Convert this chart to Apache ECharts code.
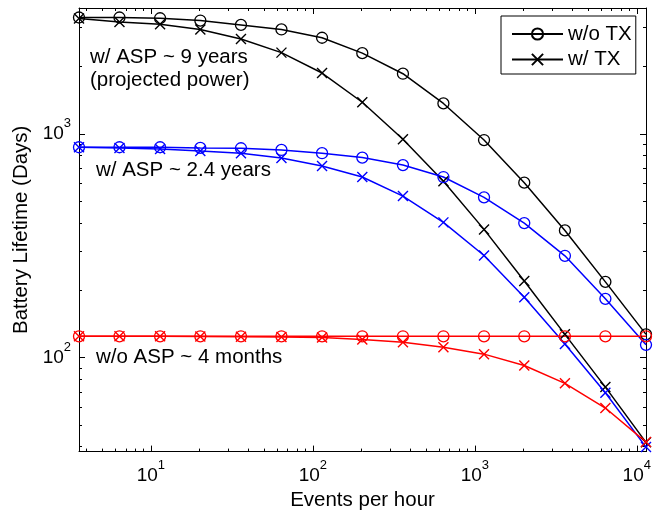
<!DOCTYPE html>
<html>
<head>
<meta charset="utf-8">
<title>Battery lifetime vs. event rate</title>
<script src="https://cdn.jsdelivr.net/npm/echarts@6/dist/echarts.min.js"></script>
<style>
  html, body { margin: 0; padding: 0; background: #fff; }
  #chart { width: 663px; height: 516px; }
</style>
</head>
<body>
<div id="chart"></div>
<script>
// Event rates (events per hour), quarter-decade steps
const eventsPerHour = [3.6, 6.4, 11.4, 20.2, 36, 64, 114, 202, 360, 640, 1140, 2020, 3600, 6400, 11400];

// Battery lifetime in days
const aspProjectedNoTx = [3310, 3310, 3285, 3208, 3067, 2927, 2687, 2294, 1856, 1367, 938, 605, 370, 218, 127];
const aspProjectedTx   = [3280, 3162, 3090, 2927, 2651, 2306, 1869, 1384, 946, 614, 374, 220, 127, 73.8, 41.8];
const aspNoTx          = [871, 871, 871, 865, 862, 847, 819, 783, 725, 641, 520, 399, 285, 183, 114];
const aspTx            = [871, 865, 855, 838, 819, 780, 718, 641, 527, 402, 286, 186, 115, 69.6, 39.8];
const noAspNoTx        = [124.5, 124.5, 124.5, 124.5, 124.5, 124.5, 124.5, 124.5, 124.5, 124.5, 124.5, 124.5, 124.5, 124.5, 124.5];
const noAspTx          = [124.5, 124.5, 124.5, 124.3, 124, 123.5, 122.8, 120.5, 117, 111.3, 103.6, 92.2, 76.7, 59.5, 41.9];

// Axis ticks
const xMajorTicks = [10, 100, 1000, 10000];
const xTickExponents = ['1', '2', '3', '4'];
const xMinorTicks = [4, 5, 6, 7, 8, 9, 20, 30, 40, 50, 60, 70, 80, 90,
  200, 300, 400, 500, 600, 700, 800, 900, 2000, 3000, 4000, 5000, 6000, 7000, 8000, 9000];
const yMajorTicks = [100, 1000];
const yTickExponents = ['2', '3'];
const yMinorTicks = [40, 50, 60, 70, 80, 90, 200, 300, 400, 500, 600, 700, 800, 900, 2000, 3000];

// Text drawn inside the plot
const notes = [
  { text: 'w/ ASP ~ 9 years', x: 90, y: 57 },
  { text: '(projected power)', x: 90, y: 80 },
  { text: 'w/ ASP ~ 2.4 years', x: 96, y: 170 },
  { text: 'w/o ASP ~ 4 months', x: 96, y: 357 }
];

const FONT = '"Liberation Sans", Arial, Helvetica, sans-serif';
const BLACK = '#000000', BLUE = '#0000ff', RED = '#ff0000';
const X_MARK = 'path://M0,0L10,10M10,0L0,10';

const powerLabel = (majors, exps) => (v) => {
  let i = 0;
  majors.forEach((m, k) => { if (Math.abs(Math.log10(v / m)) < 0.01) i = k; });
  return '{b|10}{s|' + exps[i] + '}';
};
const powerRich = {
  b: { fontSize: 19, fontFamily: FONT, color: BLACK, lineHeight: 34 },
  s: { fontSize: 13, fontFamily: FONT, color: BLACK, lineHeight: 13, verticalAlign: 'top' }
};

function xAxisDef(position, ticks, len, withLabels, withLine, extra) {
  return Object.assign({
    type: 'log', gridIndex: 0, position: position, min: 3.6, max: 11400,
    axisLine: { show: withLine, onZero: false, lineStyle: { color: BLACK, width: 1 } },
    axisTick: { show: true, inside: true, length: len, customValues: ticks, lineStyle: { color: BLACK, width: 1 } },
    axisLabel: withLabels ? {
      show: true, customValues: ticks, margin: 7,
      formatter: powerLabel(xMajorTicks, xTickExponents), rich: powerRich
    } : { show: false },
    splitLine: { show: false }, minorTick: { show: false }
  }, extra || {});
}
function yAxisDef(position, ticks, len, withLabels, withLine, extra) {
  return Object.assign({
    type: 'log', gridIndex: 0, position: position, min: 38, max: 3650,
    axisLine: { show: withLine, onZero: false, lineStyle: { color: BLACK, width: 1 } },
    axisTick: { show: true, inside: true, length: len, customValues: ticks, lineStyle: { color: BLACK, width: 1 } },
    axisLabel: withLabels ? {
      show: true, customValues: ticks, margin: 8,
      formatter: powerLabel(yMajorTicks, yTickExponents), rich: powerRich
    } : { show: false },
    splitLine: { show: false }, minorTick: { show: false }
  }, extra || {});
}

function pairs(ys) { return eventsPerHour.map((x, i) => [x, ys[i]]); }

function lineSeries(name, ys, color, marker) {
  const isCircle = marker === 'o';
  return {
    type: 'line', name: name, xAxisIndex: 0, yAxisIndex: 0,
    data: pairs(ys),
    symbol: isCircle ? 'circle' : X_MARK,
    symbolSize: isCircle ? 11 : 10,
    showAllSymbol: true,
    lineStyle: { color: color, width: 1.5 },
    itemStyle: isCircle
      ? { color: 'rgba(0,0,0,0)', borderColor: color, borderWidth: 1.3 }
      : { color: color, borderColor: color, borderWidth: 1.4 },
    emphasis: { disabled: true },
    z: 3
  };
}

const chart = echarts.init(document.getElementById('chart'), null, { renderer: 'canvas' });
chart.setOption({
  backgroundColor: '#ffffff',
  animation: false,
  textStyle: { fontFamily: FONT },
  grid: { left: 79, top: 8, width: 567, height: 448, containLabel: false },
  xAxis: [
    xAxisDef('bottom', xMajorTicks, 6, true, true, {
      name: 'Events per hour', nameLocation: 'middle', nameGap: 37,
      nameTextStyle: { fontSize: 20.5, fontFamily: FONT, color: BLACK }
    }),
    xAxisDef('bottom', xMinorTicks, 3, false, false),
    xAxisDef('top', xMajorTicks, 6, false, true),
    xAxisDef('top', xMinorTicks, 3, false, false)
  ],
  yAxis: [
    yAxisDef('left', yMajorTicks, 6, true, true, {
      name: 'Battery Lifetime (Days)', nameLocation: 'middle', nameGap: 40,
      nameTextStyle: { fontSize: 20.5, fontFamily: FONT, color: BLACK }
    }),
    yAxisDef('left', yMinorTicks, 3, false, false),
    yAxisDef('right', yMajorTicks, 6, false, true),
    yAxisDef('right', yMinorTicks, 3, false, false)
  ],
  legend: {
    data: ['w/o TX', 'w/ TX'],
    orient: 'vertical', left: 501, top: 16,
    itemWidth: 51, itemHeight: 14, itemGap: 4.5,
    padding: [7.5, 4, 4, 10],
    backgroundColor: '#ffffff', borderColor: BLACK, borderWidth: 1, borderRadius: 0,
    selectedMode: false,
    textStyle: { fontSize: 20.5, fontFamily: FONT, color: BLACK }
  },
  series: [
    lineSeries('w/o TX', aspProjectedNoTx, BLACK, 'o'),
    lineSeries('w/ TX', aspProjectedTx, BLACK, 'x'),
    lineSeries('w/o TX', aspNoTx, BLUE, 'o'),
    lineSeries('w/ TX', aspTx, BLUE, 'x'),
    lineSeries('w/o TX', noAspNoTx, RED, 'o'),
    lineSeries('w/ TX', noAspTx, RED, 'x')
  ],
  graphic: notes.map(n => ({
    type: 'text', x: n.x, y: n.y, z: 10, silent: true,
    style: { text: n.text, x: 0, y: 0, fill: BLACK, fontSize: 20.5, fontFamily: FONT, verticalAlign: 'middle', align: 'left' }
  }))
});
</script>
</body>
</html>
